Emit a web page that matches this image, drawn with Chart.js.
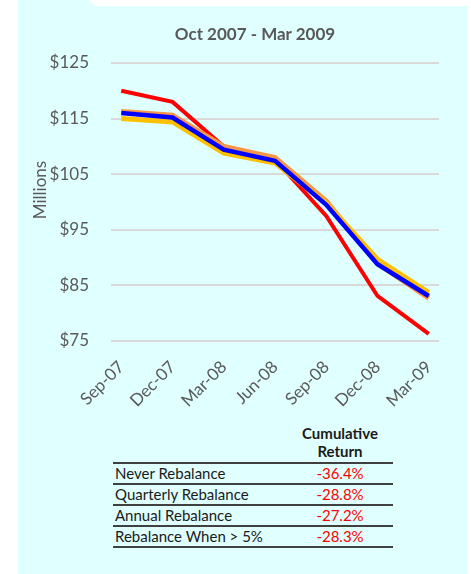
<!DOCTYPE html>
<html>
<head>
<meta charset="utf-8">
<script src="https://cdn.jsdelivr.net/npm/chart.js@4"></script>
<style>
  html, body { margin: 0; padding: 0; background: #fff; }
  body { width: 471px; height: 574px; position: relative; overflow: hidden; font-family: Lato, "Open Sans", sans-serif; }
  #panel {
    position: absolute; left: 18px; top: 0; width: 450px; height: 574px;
    background: #e0ffff;
    clip-path: polygon(0 0, 70px 0, 77px 6px, 100% 6px, 100% 100%, 0 100%);
  }
  #title {
    position: absolute; left: 135px; top: 23px; width: 240px; text-align: center;
    font-size: 17px; font-weight: bold; color: #595959; line-height: 22px;
  }
  #ytitle {
    position: absolute; left: 0; top: 179px; width: 80px; text-align: center;
    font-size: 17px; color: #595959; line-height: 22px;
    transform: translate(0, 0) rotate(-90deg); transform-origin: 40px 11px;
  }
  #chartBox { position: absolute; left: 18px; top: 0; width: 450px; height: 410px; }
  table { position: absolute; left: 113px; top: 424px; width: 280px; table-layout: fixed; border-collapse: collapse; font-size: 15px; color: #1a1a1a; }
  th { font-weight: bold; text-align: center; line-height: 18px; padding: 0 0 2px 0; border-bottom: 2px solid #404040; }
  td { height: 19px; padding: 0 2px; border-bottom: 2px solid #404040; line-height: 19px; white-space: nowrap; }
  td.v { color: #ff0000; text-align: center; }
</style>
</head>
<body>
<div id="panel"></div>
<div id="chartBox"><canvas id="c"></canvas></div>
<div id="title">Oct 2007 - Mar 2009</div>
<div id="ytitle">Millions</div>
<table>
  <colgroup><col style="width:174px"><col style="width:106px"></colgroup>
  <tr><th></th><th>Cumulative<br>Return</th></tr>
  <tbody id="rows"></tbody>
</table>
<script>
const $ = (id) => document.getElementById(id);

const months = ["Sep-07", "Dec-07", "Mar-08", "Jun-08", "Sep-08", "Dec-08", "Mar-09"];
const neverRebal = [120.0, 118.0, 110.0, 107.6, 97.5, 83.1, 76.3];
const quarterly = [116.3, 115.6, 110.0, 108.0, 100.2, 88.9, 82.7];
const annual = [115.0, 114.4, 108.8, 107.0, 99.8, 89.7, 83.7];
const over5 = [116.0, 115.2, 109.4, 107.4, 99.5, 88.8, 83.1];
const yTicks = [75, 85, 95, 105, 115, 125];

const strategies = ["Never Rebalance", "Quarterly Rebalance", "Annual Rebalance", "Rebalance When > 5%"];
const returns = ["-36.4%", "-28.8%", "-27.2%", "-28.3%"];

const toPts = (arr) => arr.map((v, i) => ({ x: i, y: v }));

function buildTable() {
  const body = $("rows");
  strategies.forEach((name, i) => {
    const tr = document.createElement("tr");
    tr.innerHTML = `<td>${name}</td><td class="v">${returns[i]}</td>`;
    body.appendChild(tr);
  });
}

function line(label, data, color, order, width) {
  return {
    label, data: toPts(data), borderColor: color, backgroundColor: color,
    borderWidth: width, pointRadius: 0, tension: 0, order,
  };
}

function init() {
  buildTable();
  const ctx = $("c").getContext("2d");
  new Chart(ctx, {
    type: "line",
    data: {
      datasets: [
        line("Rebalance When > 5%", over5, "#0000ff", 1, 4.5),
        line("Annual Rebalance", annual, "#ffc000", 2, 5),
        line("Quarterly Rebalance", quarterly, "#f79646", 3, 5),
        line("Never Rebalance", neverRebal, "#ff0000", 4, 4),
      ],
    },
    options: {
      responsive: true,
      maintainAspectRatio: false,
      animation: false,
      layout: { padding: { left: 0, right: 29, top: 63, bottom: 0 } },
      plugins: {
        legend: { display: false },
        tooltip: { enabled: false },
        title: { display: false },
      },
      scales: {
        x: {
          type: "linear",
          min: -0.2,
          max: 6.2,
          afterBuildTicks: (s) => { s.ticks = months.map((_, i) => ({ value: i })); },
          afterFit: (s) => { s.paddingLeft = 0; s.paddingRight = 0; s.height = 69; },
          ticks: {
            autoSkip: false,
            minRotation: 45,
            maxRotation: 45,
            padding: 8,
            color: "#595959",
            font: { family: "Lato", size: 17 },
            callback: (v) => months[v],
          },
          grid: { display: false },
          border: { display: false },
        },
        y: {
          min: 75,
          max: 125,
          afterBuildTicks: (s) => { s.ticks = yTicks.map((v) => ({ value: v })); },
          afterFit: (s) => { s.width = 93; s.paddingTop = 0; s.paddingBottom = 0; },
          ticks: {
            padding: 22,
            color: "#595959",
            font: { family: "Lato", size: 17 },
            callback: (v) => "$" + v,
          },
          grid: { color: "#d9d9d9", lineWidth: 2, drawTicks: false },
          border: { display: false },
        },
      },
    },
  });
}

document.addEventListener("DOMContentLoaded", init);
</script>
</body>
</html>
